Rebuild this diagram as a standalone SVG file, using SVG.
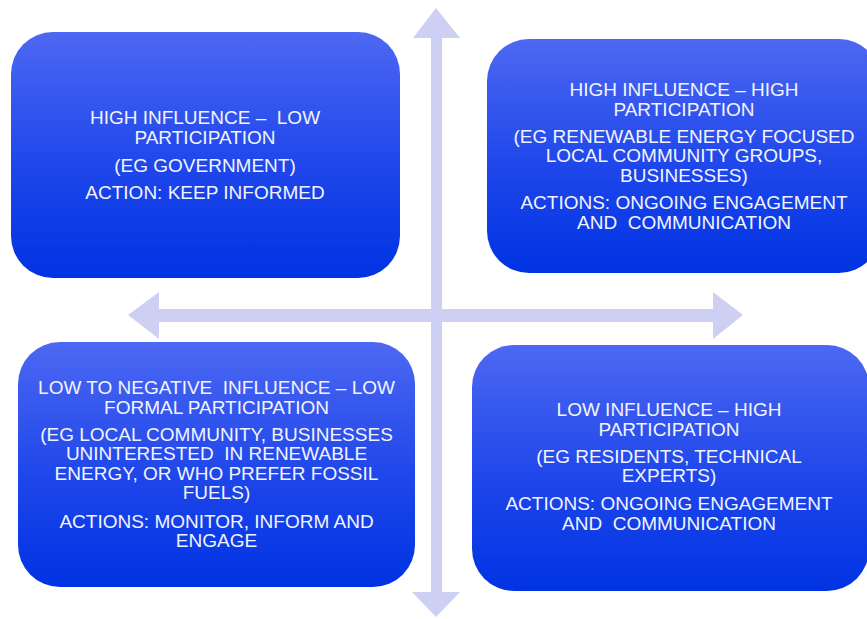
<svg xmlns="http://www.w3.org/2000/svg" width="867" height="619" viewBox="0 0 867 619">
<defs>
<linearGradient id="g" x1="0" y1="0" x2="0" y2="1">
<stop offset="0" stop-color="#4d68f2"/>
<stop offset="0.55" stop-color="#1e46ea"/>
<stop offset="1" stop-color="#0033e3"/>
</linearGradient>
<style>
.box{fill:url(#g);}
.arrow{fill:#cdd0f3;}
text{font-family:"Liberation Sans",Arial,sans-serif;font-size:19px;fill:#f2f4ff;text-anchor:middle;white-space:pre;}
</style>
</defs>
<rect width="867" height="619" fill="#ffffff"/>
<g id="connectors">
<polygon class="arrow" points="436,8 460,38 442,38 442,592 460,592 436,617 412,592 431,592 431,38 413,38"/>
<polygon class="arrow" points="128,315 159,292 159,309 713,309 713,292 743,315 713,339 713,322 159,322 159,339"/>
</g>
<g id="high-influence-low-participation">
<rect class="box" x="11" y="32" width="389" height="246" rx="42"/>
<text x="205" y="124" xml:space="preserve">HIGH INFLUENCE –  LOW</text>
<text x="205" y="144">PARTICIPATION</text>
<text x="205" y="172">(EG GOVERNMENT)</text>
<text x="205" y="199">ACTION: KEEP INFORMED</text>
</g>
<g id="high-influence-high-participation">
<rect class="box" x="487" y="39" width="394" height="234" rx="42"/>
<text x="684" y="96">HIGH INFLUENCE – HIGH</text>
<text x="684" y="116">PARTICIPATION</text>
<text x="684" y="143">(EG RENEWABLE ENERGY FOCUSED</text>
<text x="684" y="162">LOCAL COMMUNITY GROUPS,</text>
<text x="684" y="182">BUSINESSES)</text>
<text x="684" y="209">ACTIONS: ONGOING ENGAGEMENT</text>
<text x="684" y="229" xml:space="preserve">AND  COMMUNICATION</text>
</g>
<g id="low-influence-low-participation">
<rect class="box" x="18" y="342" width="397" height="245" rx="42"/>
<text x="216.5" y="394" xml:space="preserve">LOW TO NEGATIVE  INFLUENCE – LOW</text>
<text x="216.5" y="414">FORMAL PARTICIPATION</text>
<text x="216.5" y="441">(EG LOCAL COMMUNITY, BUSINESSES</text>
<text x="216.5" y="460" xml:space="preserve">UNINTERESTED  IN RENEWABLE</text>
<text x="216.5" y="480">ENERGY, OR WHO PREFER FOSSIL</text>
<text x="216.5" y="499">FUELS)</text>
<text x="216.5" y="528">ACTIONS: MONITOR, INFORM AND</text>
<text x="216.5" y="547">ENGAGE</text>
</g>
<g id="low-influence-high-participation">
<rect class="box" x="472" y="345" width="397" height="246" rx="42"/>
<text x="669" y="416">LOW INFLUENCE – HIGH</text>
<text x="669" y="436">PARTICIPATION</text>
<text x="669" y="463">(EG RESIDENTS, TECHNICAL</text>
<text x="669" y="482">EXPERTS)</text>
<text x="669" y="510">ACTIONS: ONGOING ENGAGEMENT</text>
<text x="669" y="530" xml:space="preserve">AND  COMMUNICATION</text>
</g>
</svg>
